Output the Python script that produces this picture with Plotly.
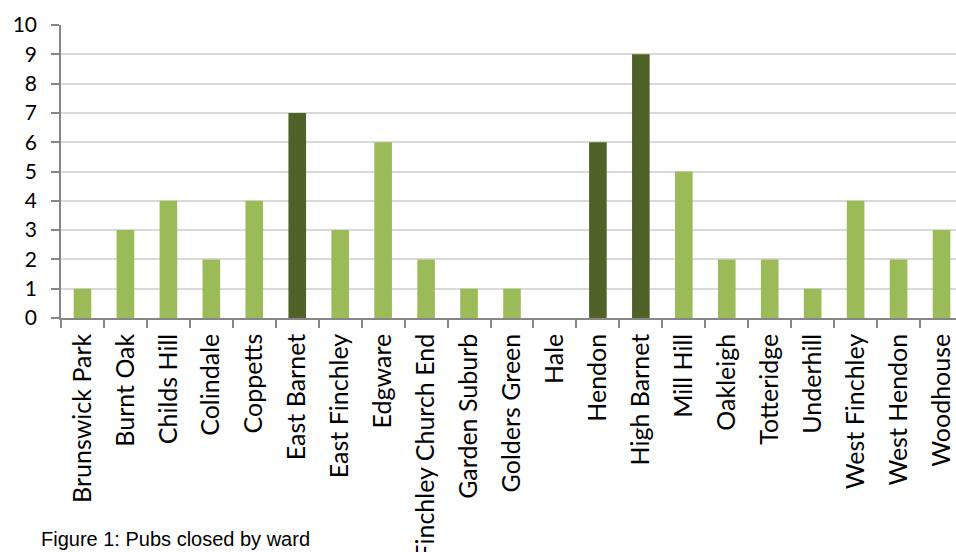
import plotly.graph_objects as go

wards = ["Brunswick Park", "Burnt Oak", "Childs Hill", "Colindale", "Coppetts",
         "East Barnet", "East Finchley", "Edgware", "Finchley Church End",
         "Garden Suburb", "Golders Green", "Hale", "Hendon", "High Barnet",
         "Mill Hill", "Oakleigh", "Totteridge", "Underhill", "West Finchley",
         "West Hendon", "Woodhouse"]
pubs_closed = [1, 3, 4, 2, 4, 7, 3, 6, 2, 1, 1, 0, 6, 9, 5, 2, 2, 1, 4, 2, 3]
highlighted = ["East Barnet", "Hendon", "High Barnet"]

LIGHT = "#9BBB59"
DARK = "#4F6228"
colors = [DARK if w in highlighted else LIGHT for w in wards]

W, H = 956, 552
L, T = 61, 25
B = 552 - 318.3
plot_h = H - T - B

fig = go.Figure(go.Bar(
    x=wards, y=pubs_closed, marker=dict(color=colors, line=dict(width=0)),
    width=0.41,
))

fig.update_layout(
    width=W, height=H,
    margin=dict(l=L, r=0, t=T, b=B, pad=0, autoexpand=False),
    plot_bgcolor="white", paper_bgcolor="white",
    showlegend=False,
    font=dict(family="Lato", size=21, color="black"),
)
fig.update_xaxes(
    range=[-0.5, 20.337], type="category", automargin=False,
    showline=True, linecolor="#868686", linewidth=1.5,
    ticks="outside", tickson="boundaries", ticklen=8, tickwidth=1.5, tickcolor="#868686",
    tickangle=-90, showgrid=False, ticklabelstandoff=4,
    tickfont=dict(family="Lato", size=25, color="black"),
)
fig.update_yaxes(
    range=[0, 10], dtick=1, tick0=0, automargin=False,
    showline=True, linecolor="#868686", linewidth=1.5,
    ticks="outside", ticklen=8, tickwidth=1.5, tickcolor="#868686",
    showgrid=True, gridcolor="#D9D9D9", gridwidth=1.5,
    zeroline=False, ticklabelstandoff=10,
    tickfont=dict(family="Lato", size=21, color="black"),
)

fig.add_annotation(
    text="Figure 1: Pubs closed by ward",
    xref="paper", yref="paper",
    x=(39 - L) / (W - L), y=(318.3 - 540) / plot_h,
    xanchor="left", yanchor="middle", showarrow=False,
    font=dict(family="Liberation Sans", size=20, color="black"),
)

fig.write_html("out.html")
